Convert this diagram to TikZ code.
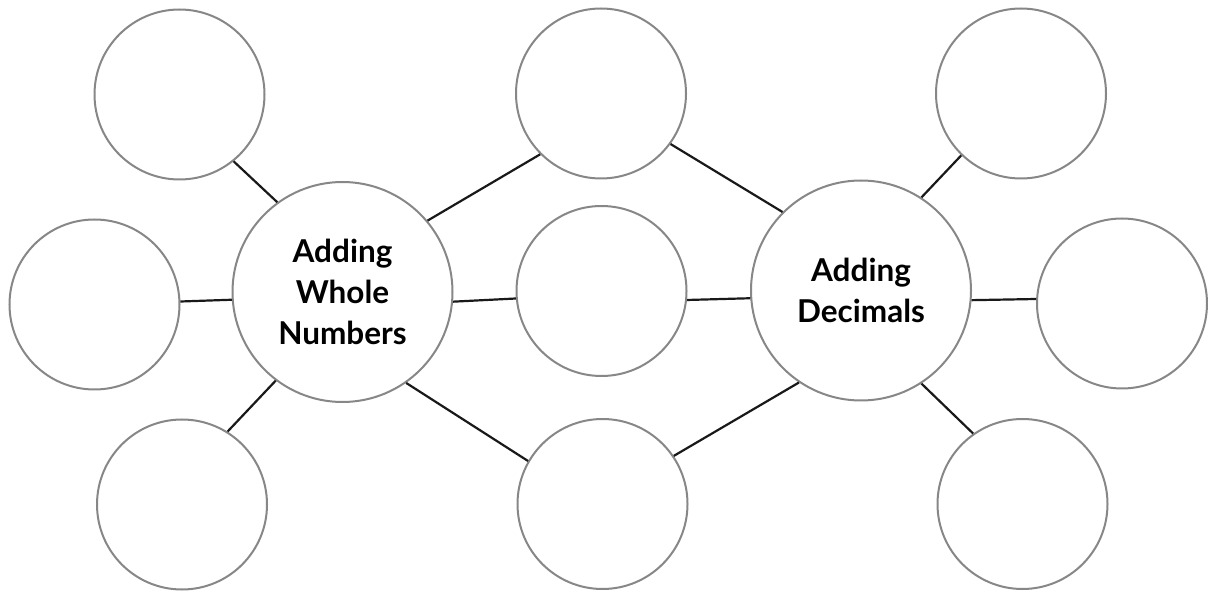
\documentclass[tikz,border=0pt]{standalone}
\usepackage{fontspec}
\setmainfont{Lato}
\definecolor{ringgray}{RGB}{135,135,135}
\definecolor{linkdark}{RGB}{25,25,25}
\begin{document}
\begin{tikzpicture}[x=1pt,y=1pt,
  bubble/.style={circle,draw=ringgray,line width=2pt,minimum size=170pt,inner sep=0pt,fill=white},
  mainbubble/.style={bubble,minimum size=220pt,font=\fontsize{31.5}{41}\selectfont\bfseries,align=center,text=black},
  link/.style={draw=linkdark,line width=2.2pt}]
\useasboundingbox (0,0) rectangle (1208,-593);
% main topics
\node[mainbubble] (lmain) at (342.5,-292) {Adding\\Whole\\Numbers};
\node[mainbubble] (rmain) at (861,-290.5) {Adding\\Decimals};
% left-only bubbles
\node[bubble] (tl) at (179.5,-94.5) {};
\node[bubble] (ml) at (94.5,-304.5) {};
\node[bubble] (bl) at (182,-504.5) {};
% shared bubbles
\node[bubble] (ctop) at (601,-93.5) {};
\node[bubble] (cmid) at (601.5,-291) {};
\node[bubble] (cbot) at (602.5,-504) {};
% right-only bubbles
\node[bubble] (tr) at (1021,-93.5) {};
\node[bubble] (mr) at (1122,-303.5) {};
\node[bubble] (br) at (1022.5,-504) {};
% connectors
\draw[link] (tl.309.4) -- (lmain.126);
\draw[link] (ml.2.7) -- (lmain.184.2);
\draw[link] (lmain.233.6) -- (bl.58.5);
\draw[link] (lmain.40.4) -- (ctop.225.2);
\draw[link] (lmain.355.8) -- (cmid.185.4);
\draw[link] (lmain.305.1) -- (cbot.150.3);
\draw[link] (ctop.324.7) -- (rmain.135.2);
\draw[link] (cmid.354.6) -- (rmain.184.4);
\draw[link] (cbot.34.8) -- (rmain.236.3);
\draw[link] (rmain.57.5) -- (tr.226.2);
\draw[link] (rmain.355.6) -- (mr.177);
\draw[link] (rmain.303.7) -- (br.125.3);
\end{tikzpicture}
\end{document}
